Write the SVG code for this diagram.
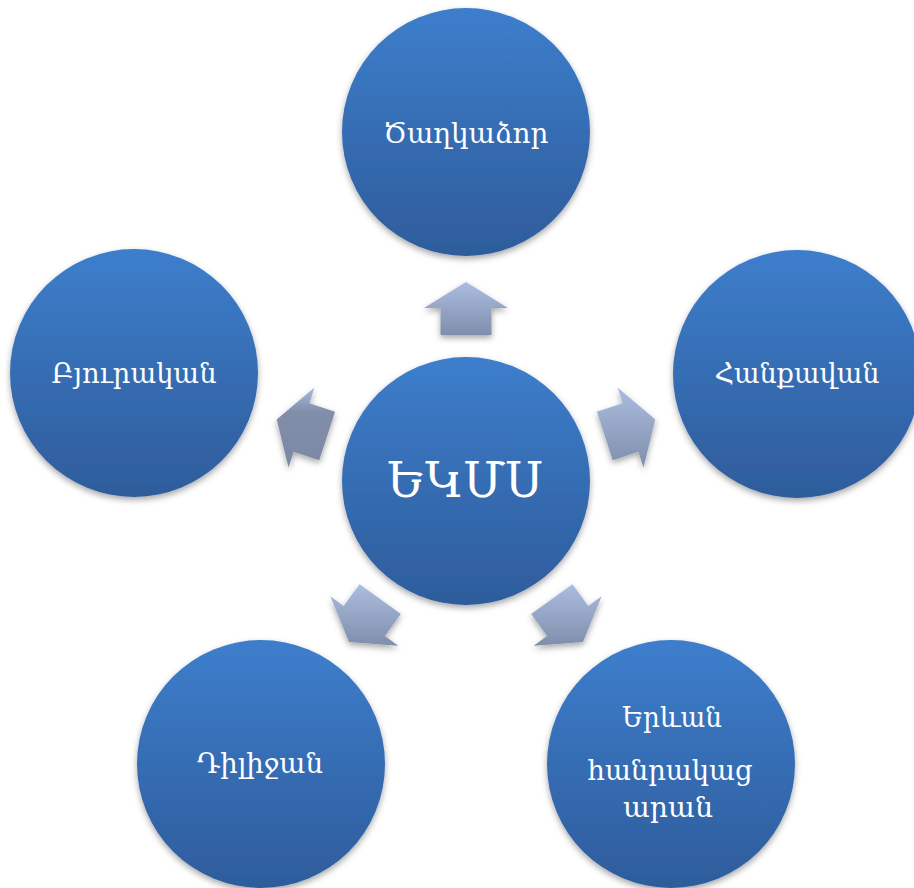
<svg xmlns="http://www.w3.org/2000/svg" width="914" height="888" viewBox="0 0 914 888">
<defs>
<linearGradient id="cg" x1="0" y1="0" x2="0" y2="1">
<stop offset="0" stop-color="#3d7ecc"/>
<stop offset="1" stop-color="#2e5c9b"/>
</linearGradient>
<linearGradient id="ag" x1="0" y1="0" x2="0" y2="1">
<stop offset="0" stop-color="#abbde0"/>
<stop offset="1" stop-color="#7f8eab"/>
</linearGradient>
<linearGradient id="agl" x1="0" y1="0" x2="0" y2="1">
<stop offset="0" stop-color="#a9bbde"/>
<stop offset="0.3" stop-color="#818ea9"/>
<stop offset="1" stop-color="#7c88a6"/>
</linearGradient>
<filter id="sh" x="-20%" y="-20%" width="140%" height="150%">
<feDropShadow dx="0" dy="3" stdDeviation="3" flood-color="#000" flood-opacity="0.35"/>
</filter>
</defs>
<style>
.c{fill:url(#cg);filter:url(#sh)}
.t{fill:#fff;font-family:"DejaVu Serif","DejaVu Sans",serif;font-size:27px;text-anchor:middle}
.big{font-size:48px}
.a{filter:url(#sh);fill:url(#ag)}
</style>
<rect width="914" height="888" fill="#fff"/>
<g id="connectors">
<path class="a" d="M466,282 L508,308 L491.5,308 L491.5,335 L440.5,335 L440.5,308 L424,308 Z"/>
<path class="a" d="M655.26,419.51 L643.51,467.48 L638.41,451.79 L612.73,460.13 L596.97,411.63 L622.65,403.29 L617.55,387.6 Z"/>
<path class="a" d="M582.97,642 L533.71,645.65 L547.06,635.95 L531.19,614.11 L572.45,584.13 L588.32,605.97 L601.67,596.27 Z"/>
<path class="a" d="M349.03,642 L398.29,645.65 L384.94,635.95 L400.81,614.11 L359.55,584.13 L343.68,605.97 L330.33,596.27 Z"/>
<path class="a" style="fill:url(#agl)" d="M276.74,419.51 L288.49,467.48 L293.59,451.79 L319.27,460.13 L335.03,411.63 L309.35,403.29 L314.45,387.6 Z"/>
</g>
<g id="center">
<circle class="c" cx="466" cy="481" r="124"/>
<text class="t big" x="465" y="497" textLength="156" lengthAdjust="spacingAndGlyphs">ԵԿՄՍ</text>
</g>
<g id="tsaghkadzor">
<circle class="c" cx="466" cy="132" r="124"/>
<text class="t" x="466" y="143" textLength="165" lengthAdjust="spacingAndGlyphs">Ծաղկաձոր</text>
</g>
<g id="hankavan">
<circle class="c" cx="797" cy="374" r="124"/>
<text class="t" x="797" y="383" textLength="165" lengthAdjust="spacingAndGlyphs">Հանքավան</text>
</g>
<g id="byurakan">
<circle class="c" cx="134" cy="373" r="124"/>
<text class="t" x="134" y="383" textLength="165" lengthAdjust="spacingAndGlyphs">Բյուրական</text>
</g>
<g id="dilijan">
<circle class="c" cx="261" cy="764" r="124"/>
<text class="t" x="260" y="773" textLength="126" lengthAdjust="spacingAndGlyphs">Դիլիջան</text>
</g>
<g id="yerevan">
<circle class="c" cx="671" cy="764" r="124"/>
<text class="t" x="672" y="727" textLength="100" lengthAdjust="spacingAndGlyphs">Երևան</text>
<text class="t" x="670" y="780" textLength="165" lengthAdjust="spacingAndGlyphs">հանրակաց</text>
<text class="t" x="668" y="817" textLength="90" lengthAdjust="spacingAndGlyphs">արան</text>
</g>
</svg>
